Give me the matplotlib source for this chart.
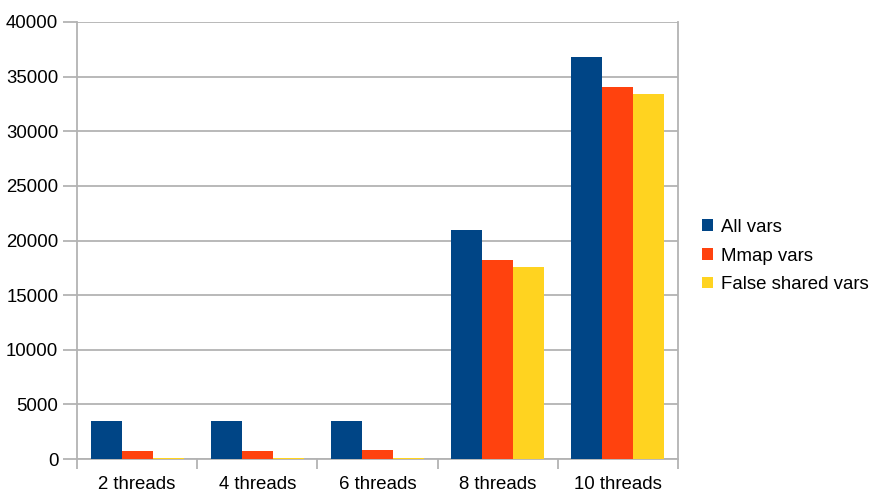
import matplotlib
matplotlib.use("Agg")
import matplotlib.pyplot as plt
import numpy as np
from matplotlib.patches import Patch

categories = ["2 threads", "4 threads", "6 threads", "8 threads", "10 threads"]
series_names = ["All vars", "Mmap vars", "False shared vars"]
all_vars = [3500, 3500, 3500, 21000, 36800]
mmap_vars = [760, 760, 850, 18240, 34070]
false_shared_vars = [60, 130, 130, 17600, 33450]
colors = ["#004586", "#ff420e", "#ffd320"]
yticks = [0, 5000, 10000, 15000, 20000, 25000, 30000, 35000, 40000]

plt.rcParams['font.family'] = ['Liberation Sans', 'DejaVu Sans']
FS = 13.4
fig = plt.figure(figsize=(8.71, 4.92), dpi=100)
W, H = 871, 492
ax = fig.add_axes([77 / W, 1 - 459 / H, (678 - 77) / W, (459 - 22) / H])

x = np.arange(len(categories))
bw = 0.258
data = [all_vars, mmap_vars, false_shared_vars]
for i, (vals, c) in enumerate(zip(data, colors)):
    ax.bar(x + (i - 1) * bw, vals, width=bw, color=c, zorder=3, linewidth=0)

grid_c = "#b3b3b3"
ax.set_xlim(-0.5, len(categories) - 0.5)
ax.set_ylim(0, 40000)
ax.set_yticks(yticks)
ax.set_yticklabels([str(v) for v in yticks])
ax.yaxis.grid(True, color=grid_c, linewidth=1.3, zorder=0)
ax.set_xticks(np.arange(-0.5, len(categories) + 0.5, 1.0))
ax.set_xticklabels([])
ax.set_xticks(x, minor=True)
ax.set_xticklabels(categories, minor=True)
ax.tick_params(axis='x', which='minor', length=0, pad=12, labelsize=FS, colors='black')
ax.tick_params(axis='x', which='major', length=7, width=1.3, color=grid_c)
ax.tick_params(axis='y', length=10, width=1.3, color=grid_c, labelsize=FS, pad=3.5, labelcolor='black')
for s in ['left', 'bottom', 'right']:
    ax.spines[s].set_color(grid_c)
    ax.spines[s].set_linewidth(1.3)
ax.spines['top'].set_visible(False)

handles = [Patch(facecolor=c, edgecolor='none') for c in colors]
fig.legend(handles, series_names, loc='center left', bbox_to_anchor=(702 / W, 1 - 256 / H),
           frameon=False, fontsize=FS, handlelength=0.6, handleheight=0.6,
           handletextpad=0.4, labelspacing=0.62, borderpad=0, borderaxespad=0)

fig.savefig("out.png", dpi=100)
